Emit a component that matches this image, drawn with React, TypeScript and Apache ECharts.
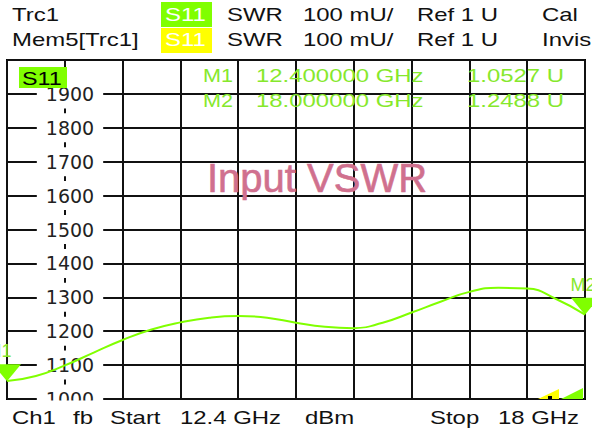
import React, { useEffect, useRef } from "react";
import * as echarts from "echarts";

// ---- data ----
const freqGHz = [12.4, 12.68, 12.96, 13.24, 13.52, 13.8, 14.08, 14.36, 14.64, 14.92, 15.2, 15.48, 15.76, 16.04, 16.32, 16.6, 16.88, 17.16, 17.44, 17.72, 18.0];
const swrMilliU = [1053, 1068, 1099, 1137, 1174, 1205, 1226, 1240, 1245, 1240, 1225, 1213, 1209, 1225, 1255, 1287, 1316, 1328, 1326, 1295, 1249];
const markerNames = ["M1", "M2"];
const markerFreqGHz = [12.4, 18.0];
const markerValueU = [1.0527, 1.2488];
const yAxisMin = 1000;
const yAxisMax = 2000;
const yAxisStep = 100;
const headerRow1 = ["Trc1", "S11", "SWR", "100 mU/", "Ref 1 U", "Cal"];
const headerRow2 = ["Mem5[Trc1]", "S11", "SWR", "100 mU/", "Ref 1 U", "Invis"];
const footerTexts = ["Ch1", "fb", "Start", "12.4 GHz", "dBm", "Stop", "18 GHz"];
const traceLabel = "S11";
const titleText = "Input VSWR";

// ---- layout ----
const headerX = [12, 165, 227, 303, 417, 542];
const footerX = [12, 73, 110, 180, 305, 430, 498];
const FONT = '"Liberation Sans", Arial, sans-serif';
const GREEN = "#80ff00";
const TEXT_GREEN = "#86e82c";

function txt(text: string, x: number, y: number, fill: string, size = 18, sx = 1.33, align = "left", z = 10) {
  return {
    type: "text",
    x,
    y,
    scaleX: sx,
    z,
    style: { text, fill, fontSize: size, fontFamily: FONT, align, verticalAlign: "middle" },
  };
}

export default function App() {
  const ref = useRef<HTMLDivElement>(null);
  useEffect(() => {
    if (!ref.current) return;
    const chart = echarts.init(ref.current, undefined, { renderer: "svg" });
    const graphics: any[] = [];
    // header
    graphics.push({ type: "rect", shape: { x: 161, y: 2, width: 51, height: 25 }, style: { fill: GREEN }, z: 9 });
    graphics.push({ type: "rect", shape: { x: 161, y: 28, width: 51, height: 25 }, style: { fill: "#ffff00" }, z: 9 });
    headerRow1.forEach((t, i) => graphics.push(txt(t, headerX[i], 15, i === 1 ? "#ffffff" : "#111", 18, 1.33)));
    headerRow2.forEach((t, i) => graphics.push(txt(t, headerX[i], 40, i === 1 ? "#ffffff" : "#111", 18, 1.33)));
    // trace badge
    graphics.push({ type: "rect", shape: { x: 19, y: 67, width: 48, height: 21 }, style: { fill: GREEN }, z: 9 });
    graphics.push(txt(traceLabel, 22, 79, "#000", 18, 1.3));
    // marker readouts
    markerNames.forEach((n, i) => {
      const y = 76 + i * 25;
      graphics.push(txt(n, 203, y, TEXT_GREEN, 18, 1.2));
      graphics.push(txt(`${markerFreqGHz[i].toFixed(6)} GHz`, 256, y, TEXT_GREEN, 18, 1.33));
      graphics.push(txt(`${markerValueU[i].toFixed(4)} U`, 467, y, TEXT_GREEN, 18, 1.33));
    });
    // title
    graphics.push({
      type: "text", x: 317, y: 178, z: 10,
      style: { text: titleText, fill: "#d0708e", fontSize: 40, fontFamily: FONT, align: "center", verticalAlign: "middle", stroke: "#d0708e", lineWidth: 0.6 },
    });
    // bottom mask + footer
    graphics.push({ type: "rect", shape: { x: 0, y: 400.5, width: 592, height: 32 }, style: { fill: "#fff" }, z: 8 });
    footerTexts.forEach((t, i) => graphics.push(txt(t, footerX[i], 418, "#111", 18, 1.33)));
    // ramp indicators
    graphics.push({ type: "polygon", shape: { points: [[538, 399], [559, 389], [559, 399]] }, style: { fill: "#ffff00" }, z: 9 });
    graphics.push({ type: "rect", shape: { x: 548, y: 396, width: 4, height: 3 }, style: { fill: "#000" }, z: 9 });
    graphics.push({ type: "polygon", shape: { points: [[561, 399], [583, 388], [583, 399]] }, style: { fill: GREEN }, z: 9 });

    chart.setOption({
      animation: false,
      backgroundColor: "#fff",
      grid: { left: 7, right: 7, top: 60, bottom: 33, show: true, borderColor: "#000", borderWidth: 2, backgroundColor: "transparent" },
      xAxis: [
        { type: "value", min: freqGHz[0], max: freqGHz[freqGHz.length - 1], show: false },
        {
          type: "value", min: 0, max: 10, interval: 1, position: "bottom", z: 0,
          axisLine: { show: false }, axisTick: { show: false }, axisLabel: { show: false },
          splitLine: { show: true, lineStyle: { color: "#111", width: 2 } },
        },
      ],
      yAxis: {
        type: "value", min: yAxisMin, max: yAxisMax, interval: yAxisStep, z: 1,
        axisLine: { show: false }, axisTick: { show: false },
        splitLine: { show: true, lineStyle: { color: "#111", width: 2 } },
        axisLabel: {
          inside: true, margin: 63, align: "center", showMaxLabel: false,
          formatter: (v: number) => String(v),
          fontFamily: '"DejaVu Sans", sans-serif', fontSize: 19, color: "#222",
          backgroundColor: "#fff", padding: [5, 9],
        },
      },
      series: [
        {
          type: "line", xAxisIndex: 0, z: 3, smooth: true, symbol: "none",
          lineStyle: { color: GREEN, width: 2 },
          data: freqGHz.map((f, i) => [f, swrMilliU[i]]),
          markPoint: {
            symbol: "triangle", symbolRotate: 180, symbolSize: [28, 17], symbolOffset: [0, "-50%"],
            itemStyle: { color: GREEN },
            label: { show: true, position: "top", distance: 4, formatter: "{b}", color: TEXT_GREEN, fontSize: 18, fontFamily: FONT },
            data: markerNames.map((n, i) => ({
              name: n, coord: [markerFreqGHz[i], markerValueU[i] * 1000],
              label: { offset: [i === 0 ? -8 : -2, 0] },
            })),
          },
        },
      ],
      graphic: graphics,
    });
    return () => chart.dispose();
  }, []);
  return <div ref={ref} style={{ position: "fixed", left: 0, top: 0, width: 592, height: 432, background: "#fff" }} />;
}
